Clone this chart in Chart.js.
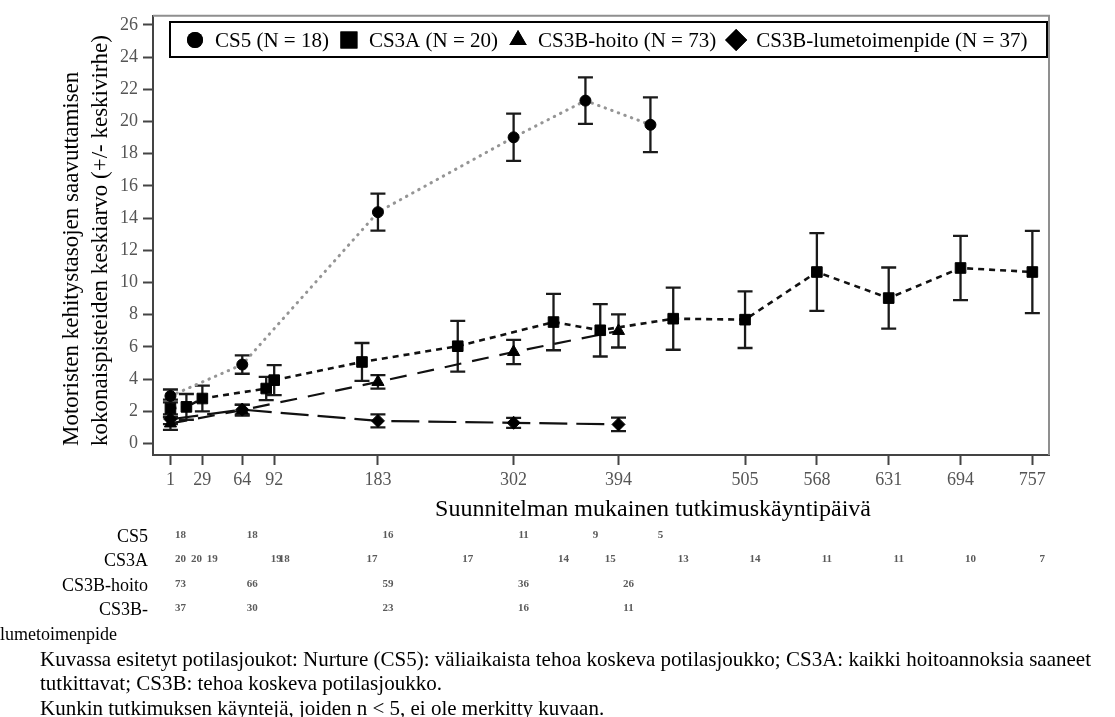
<!DOCTYPE html>
<html><head><meta charset="utf-8">
<script src="https://cdn.jsdelivr.net/npm/chart.js@4.4.1/dist/chart.umd.min.js"></script>
<style>html,body{margin:0;padding:0;background:#fff;overflow:hidden}#wrap{width:1115px;height:717px;position:relative}</style>
</head><body><div id="wrap"><canvas id="c" width="1115" height="717"></canvas></div>
<script>
// ---- data ----
const xTickValues = [1, 29, 64, 92, 183, 302, 394, 505, 568, 631, 694, 757];
const yTickValues = [0, 2, 4, 6, 8, 10, 12, 14, 16, 18, 20, 22, 24, 26];

const seriesLabels = ['CS5 (N = 18)', 'CS3A (N = 20)', 'CS3B-hoito (N = 73)', 'CS3B-lumetoimenpide (N = 37)'];
const rowLabels = ['CS5', 'CS3A', 'CS3B-hoito', 'CS3B-'];
const rowLabelWrap = 'lumetoimenpide';

const cs5Days = [1, 64, 183, 302, 365, 422];
const cs5Mean = [2.95, 4.9, 14.37, 19.02, 21.3, 19.8];
const cs5Err  = [0.4, 0.57, 1.15, 1.47, 1.45, 1.7];
const cs5N    = [18, 18, 16, 11, 9, 5];

const cs3aDays = [1, 15, 29, 85, 92, 169, 253, 337, 378, 442, 505, 568, 631, 694, 757];
const cs3aMean = [2.17, 2.27, 2.79, 3.41, 3.93, 5.06, 6.04, 7.54, 7.03, 7.75, 7.69, 10.65, 9.03, 10.9, 10.65];
const cs3aErr  = [0.55, 0.8, 0.8, 0.72, 0.93, 1.18, 1.58, 1.75, 1.63, 1.93, 1.76, 2.42, 1.9, 2.0, 2.55];
const cs3aN    = [20, 20, 19, 19, 18, 17, 17, 14, 15, 13, 14, 11, 11, 10, 7];

const hoitoDays = [1, 64, 183, 302, 394];
const hoitoMean = [1.24, 2.07, 3.82, 5.68, 6.99];
const hoitoErr  = [0.4, 0.34, 0.42, 0.75, 1.03];
const hoitoN    = [73, 66, 59, 36, 26];

const lumeDays = [1, 64, 183, 302, 394];
const lumeMean = [1.5, 2.1, 1.4, 1.28, 1.18];
const lumeErr  = [0.3, 0.3, 0.4, 0.31, 0.42];
const lumeN    = [37, 30, 23, 16, 11];

const yTitle = ['Motoristen kehitystasojen saavuttamisen', 'kokonaispisteiden keskiarvo (+/- keskivirhe)'];
const xTitle = 'Suunnitelman mukainen tutkimuskäyntipäivä';
const footnotes = [
  'Kuvassa esitetyt potilasjoukot: Nurture (CS5): väliaikaista tehoa koskeva potilasjoukko; CS3A: kaikki hoitoannoksia saaneet',
  'tutkittavat; CS3B: tehoa koskeva potilasjoukko.',
  'Kunkin tutkimuksen käyntejä, joiden n < 5, ei ole merkitty kuvaan.'
];

// ---- build ----
const SERIF = "'Liberation Serif', 'Times New Roman', serif";
Chart.defaults.font.family = SERIF;
function pts(d, m) { return d.map((v, i) => ({ x: v, y: m[i] })); }

const datasets = [
  { label: seriesLabels[0], data: pts(cs5Days, cs5Mean), err: cs5Err, nvals: cs5N, days: cs5Days,
    borderColor: '#959595', borderDash: [0.5, 6.5], borderWidth: 3, borderCapStyle: 'round',
    pointStyle: 'circle', pointRadius: 5.5, legendRadius: 8 },
  { label: seriesLabels[1], data: pts(cs3aDays, cs3aMean), err: cs3aErr, nvals: cs3aN, days: cs3aDays,
    borderColor: '#111', borderDash: [6, 5], borderWidth: 2.6,
    pointStyle: 'rect', pointRadius: 7.5, legendRadius: 12 },
  { label: seriesLabels[2], data: pts(hoitoDays, hoitoMean), err: hoitoErr, nvals: hoitoN, days: hoitoDays,
    borderColor: '#111', borderDash: [17, 11], borderWidth: 2.2,
    pointStyle: 'triangle', pointRadius: 7, legendRadius: 10 },
  { label: seriesLabels[3], data: pts(lumeDays, lumeMean), err: lumeErr, nvals: lumeN, days: lumeDays,
    borderColor: '#111', borderDash: [28, 9], borderWidth: 2.2,
    pointStyle: 'rectRot', pointRadius: 6.5, legendRadius: 11 }
];
datasets.forEach(d => {
  d.pointBackgroundColor = '#000'; d.pointBorderColor = '#000'; d.pointBorderWidth = 1;
  d.fill = false; d.tension = 0; d.pointHoverRadius = d.pointRadius;
});

const errorBars = {
  id: 'errorBars',
  beforeDatasetsDraw(chart) {
    const { ctx, scales: { x, y } } = chart;
    ctx.save();
    ctx.strokeStyle = '#1a1a1a'; ctx.lineWidth = 2.3; ctx.setLineDash([]);
    chart.data.datasets.forEach(ds => {
      ds.data.forEach((p, i) => {
        const e = ds.err[i];
        const px = x.getPixelForValue(p.x);
        const yt = y.getPixelForValue(p.y + e), yb = y.getPixelForValue(p.y - e);
        ctx.beginPath();
        ctx.moveTo(px, yt); ctx.lineTo(px, yb);
        ctx.moveTo(px - 7.5, yt); ctx.lineTo(px + 7.5, yt);
        ctx.moveTo(px - 7.5, yb); ctx.lineTo(px + 7.5, yb);
        ctx.stroke();
      });
    });
    ctx.restore();
  }
};

const decor = {
  id: 'decor',
  afterDraw(chart) {
    const { ctx, chartArea: ca, scales: { x } } = chart;
    ctx.save();
    // frame top/right
    ctx.strokeStyle = '#8f8f8f'; ctx.lineWidth = 2;
    ctx.beginPath();
    ctx.moveTo(ca.left, ca.top); ctx.lineTo(ca.right, ca.top); ctx.lineTo(ca.right, ca.bottom);
    ctx.stroke();

    // legend box
    const lx0 = 170, ly0 = 22, lx1 = 1047, ly1 = 57;
    ctx.fillStyle = '#fff'; ctx.fillRect(lx0, ly0, lx1 - lx0, ly1 - ly0);
    ctx.strokeStyle = '#000'; ctx.lineWidth = 2; ctx.strokeRect(lx0, ly0, lx1 - lx0, ly1 - ly0);
    ctx.font = '21px ' + SERIF; ctx.textBaseline = 'middle'; ctx.textAlign = 'left';
    let cx = 195; const cy = 40;
    chart.data.datasets.forEach(ds => {
      ctx.fillStyle = '#000'; ctx.strokeStyle = '#000';
      Chart.helpers.drawPoint(ctx, { pointStyle: ds.pointStyle, radius: ds.legendRadius, rotation: 0, borderWidth: 0 }, cx, cy);
      ctx.fill();
      ctx.fillStyle = '#000';
      ctx.fillText(ds.label, cx + 20, cy + 1);
      cx = cx + 20 + ctx.measureText(ds.label).width + 20;
    });

    // y title
    ctx.fillStyle = '#000'; ctx.font = '23px ' + SERIF;
    ctx.save(); ctx.translate(72, 446); ctx.rotate(-Math.PI / 2);
    ctx.textAlign = 'left'; ctx.textBaseline = 'middle';
    ctx.fillText(yTitle[0], 0, 0);
    ctx.fillText(yTitle[1], 0, 29);
    ctx.restore();

    // x title
    ctx.font = '24px ' + SERIF; ctx.textAlign = 'center'; ctx.textBaseline = 'middle';
    ctx.fillText(xTitle, 653, 510);

    // table
    const rowsY = [537, 561, 586, 610];
    ctx.font = '18px ' + SERIF; ctx.textAlign = 'right';
    rowLabels.forEach((t, i) => ctx.fillText(t, 148, rowsY[i]));
    ctx.textAlign = 'left'; ctx.fillText(rowLabelWrap, 0, 635);
    ctx.font = 'bold 11px ' + SERIF; ctx.fillStyle = '#5a5a5a'; ctx.textAlign = 'center';
    chart.data.datasets.forEach((ds, r) => {
      ds.days.forEach((d, i) => {
        ctx.fillText(String(ds.nvals[i]), x.getPixelForValue(d) + 10, rowsY[r] - 2);
      });
    });

    // footnotes
    ctx.font = '21px ' + SERIF; ctx.fillStyle = '#000'; ctx.textAlign = 'left';
    footnotes.forEach((t, i) => ctx.fillText(t, 40, 660 + i * 24.5));
    ctx.restore();
  }
};

new Chart(document.getElementById('c'), {
  type: 'line',
  data: { datasets },
  options: {
    responsive: false, animation: false, devicePixelRatio: 1,
    layout: { padding: { top: 15, right: 66, left: 0, bottom: 0 } },
    plugins: { legend: { display: false }, tooltip: { enabled: false } },
    scales: {
      x: {
        type: 'linear', min: -14.3, max: 771.6,
        afterBuildTicks: s => { s.ticks = xTickValues.map(v => ({ value: v })); },
        afterFit: s => { s.height = 262; },
        ticks: { autoSkip: false, maxRotation: 0, padding: 4, color: '#555', font: { size: 18, family: SERIF } },
        grid: { drawOnChartArea: false, drawTicks: true, tickLength: 10, tickColor: '#444', tickWidth: 2 },
        border: { color: '#444', width: 2 }
      },
      y: {
        min: -0.72, max: 26.57,
        afterBuildTicks: s => { s.ticks = yTickValues.map(v => ({ value: v })); },
        afterFit: s => { s.width = 153; },
        ticks: { padding: 5, color: '#555', font: { size: 18, family: SERIF } },
        grid: { drawOnChartArea: false, drawTicks: true, tickLength: 10, tickColor: '#444', tickWidth: 2 },
        border: { color: '#444', width: 2 }
      }
    }
  },
  plugins: [errorBars, decor]
});
</script></body></html>
